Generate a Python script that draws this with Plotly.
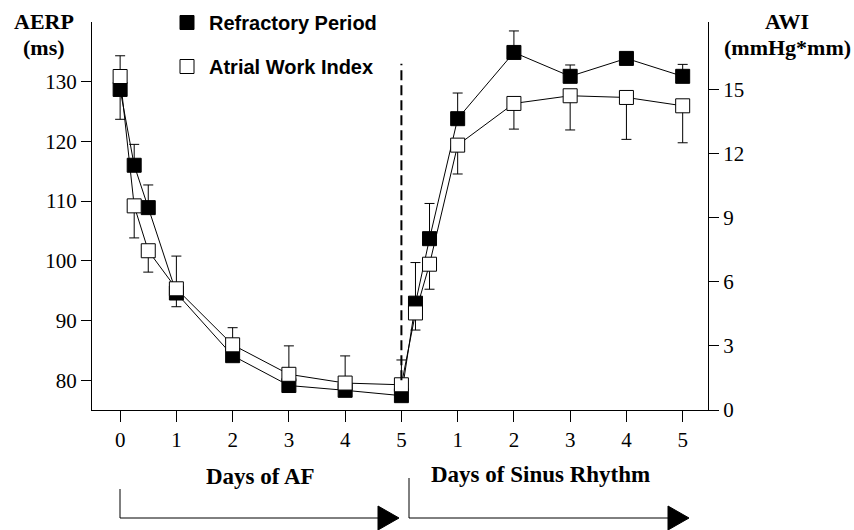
import plotly.graph_objects as go

# ---- data (x positions: AF days 0..5, then sinus-rhythm days continue at 5..10) ----
x_pos = [0, 0.25, 0.5, 1, 2, 3, 4, 5, 5.25, 5.5, 6, 7, 8, 9, 10]
tick_vals = [0, 1, 2, 3, 4, 5, 6, 7, 8, 9, 10]
tick_text = ["0", "1", "2", "3", "4", "5", "1", "2", "3", "4", "5"]

aerp = [128.7, 116.0, 108.9, 94.6, 84.1, 79.1, 78.3, 77.4, 92.9, 103.7, 123.8, 134.9, 130.9, 133.9, 130.9]
aerp_err_plus = [0, 3.5, 3.8, 0, 0, 0, 0, 0, 6.8, 5.9, 4.3, 3.6, 1.9, 0, 2.0]
aerp_err_minus = [5.0, 0, 0, 2.3, 0, 0, 0, 0, 0, 0, 0, 0, 0, 0, 0]

awi = [15.6, 9.55, 7.45, 5.67, 3.05, 1.67, 1.26, 1.18, 4.54, 6.82, 12.39, 14.34, 14.7, 14.62, 14.23]
awi_err_plus = [0.97, 0, 0, 1.53, 0.8, 1.33, 1.27, 1.16, 0, 0, 0, 0, 0, 0, 0]
awi_err_minus = [0, 1.5, 1.0, 0, 0, 0, 0, 0, 0.8, 1.17, 1.35, 1.2, 1.6, 1.96, 1.73]

divider_day = 5
divider_top = 133.0
divider_bottom = 80.0

SERIF = "Liberation Serif, Times New Roman, serif"
SANS = "Liberation Sans, Arial, sans-serif"

W, H = 854, 530
L, R, T, B = 92, 708, 22, 410


def px(xp):
    return (xp - L) / (R - L)


def py(yp):
    return (B - yp) / (B - T)


fig = go.Figure()

fig.add_trace(go.Scatter(
    x=x_pos, y=awi, yaxis="y2", mode="lines+markers", showlegend=False,
    line=dict(color="black", width=1),
    marker=dict(symbol="square", size=14, color="white", line=dict(color="black", width=1)),
    error_y=dict(type="data", symmetric=False, array=awi_err_plus, arrayminus=awi_err_minus,
                 color="black", thickness=1, width=5),
))
fig.add_trace(go.Scatter(
    x=x_pos, y=aerp, yaxis="y", mode="lines+markers", showlegend=False,
    line=dict(color="black", width=1),
    marker=dict(symbol="square", size=14, color="black", line=dict(color="black", width=1)),
    error_y=dict(type="data", symmetric=False, array=aerp_err_plus, arrayminus=aerp_err_minus,
                 color="black", thickness=1, width=5),
))

# legend-only entries
fig.add_trace(go.Scatter(x=[None], y=[None], mode="markers", name="<b>Refractory Period</b>",
                         legendgroup="a",
                         marker=dict(symbol="square", size=14, color="black", line=dict(color="black", width=1))))
fig.add_trace(go.Scatter(x=[None], y=[None], mode="markers", name="<b>Atrial Work Index</b>",
                         legendgroup="b",
                         marker=dict(symbol="square", size=14, color="white", line=dict(color="black", width=1))))

shapes = [
    dict(type="line", xref="x", yref="y", x0=divider_day, x1=divider_day,
         y0=divider_bottom, y1=divider_top, line=dict(color="black", width=2, dash="10px,5px")),
    # bottom arrows
    dict(type="line", xref="paper", yref="paper", x0=px(120), x1=px(120), y0=py(489), y1=py(518),
         line=dict(color="black", width=1)),
    dict(type="line", xref="paper", yref="paper", x0=px(120), x1=px(380), y0=py(518), y1=py(518),
         line=dict(color="black", width=1)),
    dict(type="line", xref="paper", yref="paper", x0=px(409), x1=px(409), y0=py(478), y1=py(518),
         line=dict(color="black", width=1)),
    dict(type="line", xref="paper", yref="paper", x0=px(409), x1=px(668), y0=py(518), y1=py(518),
         line=dict(color="black", width=1)),
]
for tip in (399, 689):
    shapes.append(dict(
        type="path", xref="paper", yref="paper",
        path=f"M {px(tip-21)} {py(506)} L {px(tip)} {py(518)} L {px(tip-21)} {py(530)} Z",
        fillcolor="black", line=dict(color="black", width=1)))


def label(text, xc, yc, size, family=SERIF):
    return dict(text=text, x=px(xc), y=py(yc), xref="paper", yref="paper", showarrow=False,
                xanchor="center", yanchor="middle",
                font=dict(family=family, size=size, color="black"))


annotations = [
    label("<b>AERP</b>", 44, 21, 22),
    label("<b>(ms)</b>", 44, 47, 22),
    label("<b>AWI</b>", 787, 21, 22),
    label("<b>(mmHg*mm)</b>", 787, 47, 22),
    label("<b>Days of AF</b>", 260, 476, 23),
    label("<b>Days of Sinus Rhythm</b>", 540, 474, 23),
]

axis_common = dict(showgrid=False, zeroline=False, showline=True, linecolor="black", linewidth=1,
                   ticks="outside", tickcolor="black", tickwidth=1,
                   tickfont=dict(family=SERIF, size=21, color="black"))

fig.update_layout(
    width=W, height=H,
    margin=dict(l=L, r=W - R, t=T, b=H - B, pad=0, autoexpand=False),
    paper_bgcolor="white", plot_bgcolor="white",
    xaxis=dict(range=[-0.5, 10.45], tickvals=tick_vals, ticktext=tick_text, ticklen=11, **axis_common),
    yaxis=dict(range=[75, 140], tickvals=[80, 90, 100, 110, 120, 130], ticklen=10, **axis_common),
    yaxis2=dict(range=[0, 18.15], tickvals=[0, 3, 6, 9, 12, 15], overlaying="y", side="right",
                anchor="x", ticklen=10, **axis_common),
    legend=dict(xref="container", yref="container", x=165 / W, y=1 - 3 / H,
                xanchor="left", yanchor="top", bgcolor="rgba(0,0,0,0)",
                font=dict(family=SANS, size=20, color="black"), tracegroupgap=15,
                itemsizing="trace", itemwidth=34),
    shapes=shapes, annotations=annotations,
)

fig.write_html("out.html")
